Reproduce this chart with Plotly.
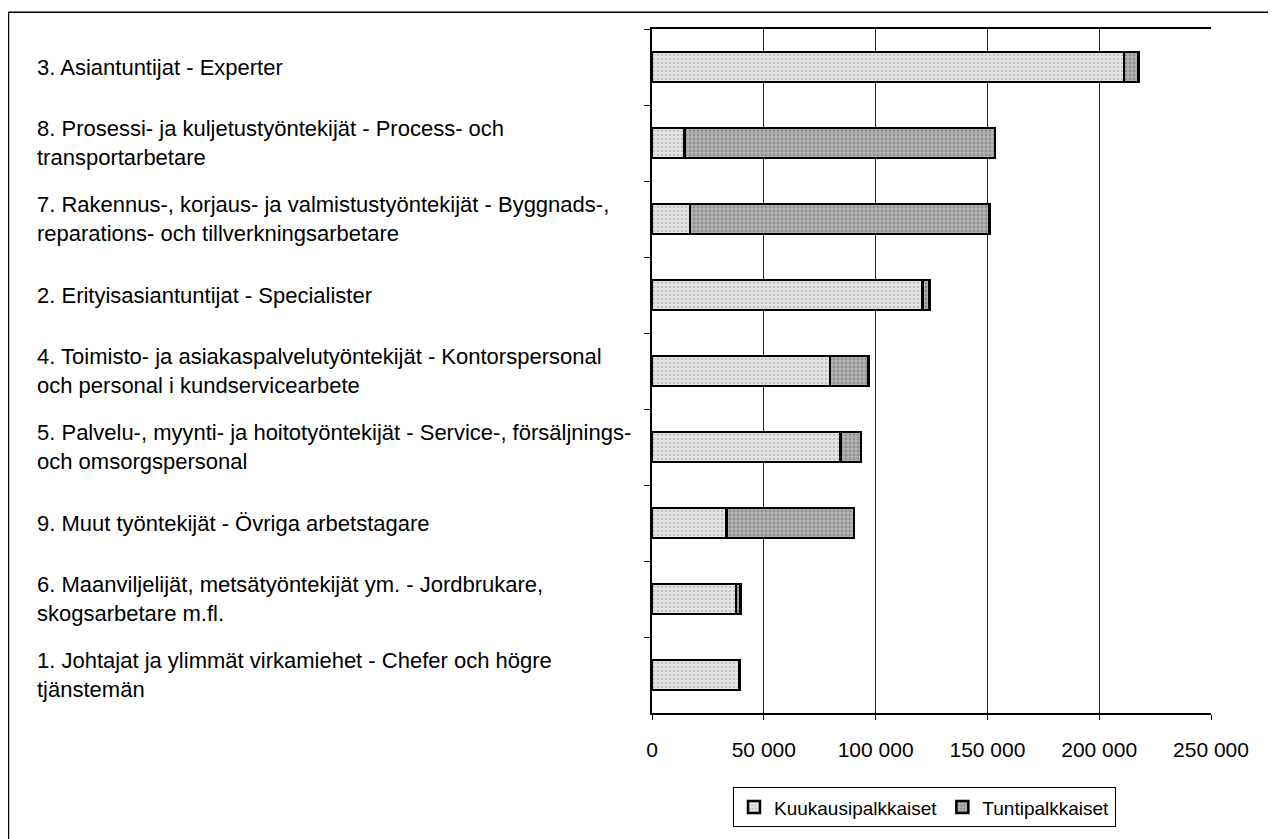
import plotly.graph_objects as go

categories = [
    "3. Asiantuntijat - Experter",
    "8. Prosessi- ja kuljetustyöntekijät - Process- och<br>transportarbetare",
    "7. Rakennus-, korjaus- ja valmistustyöntekijät - Byggnads-,<br>reparations- och tillverkningsarbetare",
    "2. Erityisasiantuntijat - Specialister",
    "4. Toimisto- ja asiakaspalvelutyöntekijät - Kontorspersonal<br>och personal i kundservicearbete",
    "5. Palvelu-, myynti- ja hoitotyöntekijät - Service-, försäljnings-<br>och omsorgspersonal",
    "9. Muut työntekijät - Övriga arbetstagare",
    "6. Maanviljelijät, metsätyöntekijät ym. - Jordbrukare,<br>skogsarbetare m.fl.",
    "1. Johtajat ja ylimmät virkamiehet - Chefer och högre<br>tjänstemän",
]
kuukausi = [211000, 14500, 17000, 121000, 79600, 84400, 33300, 37500, 39200]
tunti = [6500, 139000, 134000, 3000, 17300, 9000, 57000, 2000, 200]
series_names = ["Kuukausipalkkaiset", "Tuntipalkkaiset"]
tick_vals = [0, 50000, 100000, 150000, 200000, 250000]
tick_text = ["0", "50 000", "100 000", "150 000", "200 000", "250 000"]

# page body has an 8px margin; layout coords = screen coords - 8
OFF = 8
W, H = 1276 - OFF, 839 - OFF
L, R, T, B = 652 - OFF, 1211 - OFF, 29 - OFF, 720 - OFF
pw, ph = R - L, B - T
FONT = "Liberation Sans, Arial, sans-serif"


def px(x):
    return (x - OFF - L) / pw


def py(y):
    return (B - (y - OFF)) / ph


fig = go.Figure()
fig.add_trace(go.Bar(
    y=categories, x=kuukausi, name=series_names[0], orientation="h",
    marker=dict(color="#e4e4e4", line=dict(color="black", width=2.5),
                pattern=dict(shape=".", fgcolor="#a0a0a0", bgcolor="#e6e6e6", size=4, solidity=0.35)),
))
fig.add_trace(go.Bar(
    y=categories, x=tunti, name=series_names[1], orientation="h",
    marker=dict(color="#a8a8a8", line=dict(color="black", width=2.5),
                pattern=dict(shape=".", fgcolor="#6a6a6a", bgcolor="#b4b4b4", size=4, solidity=0.4)),
))

annotations = []
for c in categories:
    annotations.append(dict(
        x=px(35), xref="paper", y=c, yref="y", text=c,
        xanchor="left", yanchor="middle", align="left", showarrow=False,
        font=dict(family=FONT, size=22, color="black"),
    ))

fig.update_layout(
    width=W, height=H,
    margin=dict(l=L, r=W - R, t=T, b=H - B, pad=0),
    barmode="stack", bargap=0.6,
    plot_bgcolor="white", paper_bgcolor="white",
    font=dict(family=FONT, size=20, color="black"),
    showlegend=True,
    legend=dict(
        orientation="h", x=px(733), xanchor="left",
        y=py(795), yanchor="top",
        bordercolor="black", borderwidth=1, font=dict(size=19),
        traceorder="normal", itemwidth=30, tracegroupgap=0,
    ),
    annotations=annotations,
    shapes=[dict(
        type="rect", xref="paper", yref="paper",
        x0=px(8.5), x1=px(1271),
        y0=py(850), y1=py(12),
        line=dict(color="black", width=1.5), fillcolor="rgba(0,0,0,0)", layer="below",
    )],
)
fig.update_xaxes(
    range=[0, 250000], tickvals=tick_vals, ticktext=tick_text,
    showgrid=True, gridcolor="#222222", gridwidth=1,
    showline=True, linecolor="black", linewidth=1.5, mirror=True,
    ticks="outside", ticklen=5, tickcolor="black", ticklabelstandoff=12,
    tickfont=dict(size=21), zeroline=False,
)
fig.update_yaxes(
    categoryorder="array", categoryarray=categories, autorange="reversed",
    showticklabels=False, showline=True, linecolor="black", linewidth=1.5,
    ticks="outside", ticklen=6, tickcolor="black", tickson="boundaries",
    showgrid=False, zeroline=False,
)

fig.write_html("out.html")
